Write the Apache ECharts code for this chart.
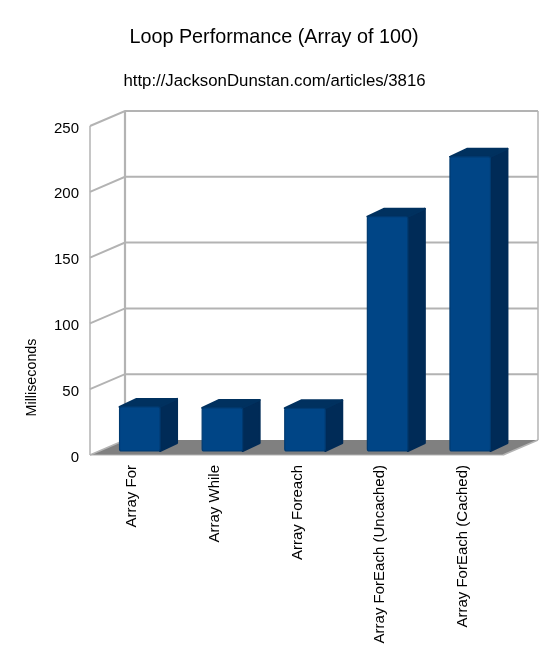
<!DOCTYPE html>
<html>
<head>
<meta charset="utf-8">
<style>html,body{margin:0;padding:0;background:#fff}#c{width:550px;height:660px}</style>
<script src="https://cdn.jsdelivr.net/npm/echarts@6/dist/echarts.min.js"></script>
</head>
<body>
<div id="c"></div>
<script>
const categories = ['Array For', 'Array While', 'Array Foreach', 'Array ForEach (Uncached)', 'Array ForEach (Cached)'];
const milliseconds = [33.5, 32.7, 32.5, 178, 223.5];
const tickValues = [0, 50, 100, 150, 200, 250];

const FONT = '"Liberation Sans", Arial, sans-serif';
const DEPTH_X = 35, DEPTH_Y = 15;     // wall depth of the pseudo-3D box
const BAR_SHIFT_X = 8.5, BAR_SHIFT_Y = 4; // bar sits mid-way into the box
const BAR_DX = 17, BAR_DY = 8;        // bar depth
const BAR_W = 40.5;
const WALL = '#b3b3b3', FLOOR = '#808080';
const FRONT = '#004586', FRONT_EDGE = '#003a70', SIDE = '#002b57', TOP = '#00315f';

function boxEdges(api) {
  const band = api.size([1, 0])[0];
  const left = api.coord([0, 0])[0] - band / 2;
  return { left, right: left + band * categories.length };
}

function renderWalls(params, api) {
  const v = api.value(0);
  const { left, right } = boxEdges(api);
  const y = api.coord([0, v])[1];
  const children = [];
  const lineStyle = (w) => ({ stroke: WALL, lineWidth: w, fill: null });
  if (v === 0) {
    children.push({ type: 'polygon', shape: { points: [[left, y], [left + DEPTH_X, y - DEPTH_Y], [right + DEPTH_X, y - DEPTH_Y], [right, y]] }, style: { fill: FLOOR } });
    const top = api.coord([0, tickValues[tickValues.length - 1]])[1];
    children.push({ type: 'line', shape: { x1: left, y1: y, x2: left, y2: top }, style: lineStyle(1.5) });
    children.push({ type: 'line', shape: { x1: left + DEPTH_X, y1: y - DEPTH_Y, x2: left + DEPTH_X, y2: top - DEPTH_Y }, style: lineStyle(2.2) });
    children.push({ type: 'line', shape: { x1: right + DEPTH_X, y1: y - DEPTH_Y, x2: right + DEPTH_X, y2: top - DEPTH_Y }, style: lineStyle(1.5) });
    children.push({ type: 'line', shape: { x1: right, y1: y, x2: right + DEPTH_X, y2: y - DEPTH_Y }, style: lineStyle(1.5) });
    children.push({ type: 'line', shape: { x1: left, y1: y, x2: right, y2: y }, style: lineStyle(1) });
    children.push({ type: 'line', shape: { x1: left, y1: y, x2: left + DEPTH_X, y2: y - DEPTH_Y }, style: lineStyle(1.5) });
  } else {
    children.push({ type: 'polyline', shape: { points: [[left, y], [left + DEPTH_X, y - DEPTH_Y], [right + DEPTH_X, y - DEPTH_Y]] }, style: lineStyle(2) });
  }
  return { type: 'group', children };
}

function renderBar(params, api) {
  const c = api.coord([api.value(0), api.value(1)]);
  const base = api.coord([api.value(0), 0]);
  const x0 = c[0] + BAR_SHIFT_X - BAR_W / 2, x1 = x0 + BAR_W;
  const yt = c[1] - BAR_SHIFT_Y, yb = base[1] - BAR_SHIFT_Y;
  const poly = (points, fill) => ({
    type: 'polygon', shape: { points },
    style: { fill, stroke: fill, lineWidth: 2, lineJoin: 'round' }
  });
  return {
    type: 'group',
    children: [
      poly([[x1, yt], [x1 + BAR_DX, yt - BAR_DY], [x1 + BAR_DX, yb - BAR_DY], [x1, yb]], SIDE),
      poly([[x0, yt], [x0 + BAR_DX, yt - BAR_DY], [x1 + BAR_DX, yt - BAR_DY], [x1, yt]], TOP),
      { type: 'rect', shape: { x: x0, y: yt, width: BAR_W, height: yb - yt, r: 2 },
        style: { fill: FRONT, stroke: FRONT_EDGE, lineWidth: 1.2 } }
    ]
  };
}

const labelToken = (padding) => ({ fontSize: 15, color: '#000', fontFamily: FONT, padding });

const chart = echarts.init(document.getElementById('c'), null, { renderer: 'canvas' });
chart.setOption({
  animation: false,
  backgroundColor: '#ffffff',
  textStyle: { fontFamily: FONT },
  title: [
    { text: 'Loop Performance (Array of 100)', left: 269, top: 23, textAlign: 'center',
      textStyle: { fontFamily: FONT, fontSize: 19.8, fontWeight: 'normal', color: '#000' } },
    { text: 'http://JacksonDunstan.com/articles/3816', left: 269.5, top: 68, textAlign: 'center',
      textStyle: { fontFamily: FONT, fontSize: 16.8, fontWeight: 'normal', color: '#000' } }
  ],
  grid: { left: 90, right: 47, top: 126, bottom: 205, containLabel: false },
  xAxis: {
    type: 'category', data: categories,
    axisLine: { show: false }, axisTick: { show: false }, splitLine: { show: false },
    axisLabel: { rotate: 90, interval: 0, margin: 10, fontSize: 15, color: '#000', fontFamily: FONT,
      formatter: '{t|{value}}', rich: { t: labelToken([2, 0, 0, 0]) } }
  },
  yAxis: {
    type: 'value', min: 0, max: 250, interval: 50,
    name: 'Milliseconds', nameLocation: 'middle', nameGap: 51, nameRotate: 90,
    nameTextStyle: { fontSize: 14.3, color: '#000', fontFamily: FONT, padding: [0, 174, 0, 0] },
    axisLine: { show: false }, axisTick: { show: false }, splitLine: { show: false },
    axisLabel: { margin: 11, fontSize: 15, color: '#000', fontFamily: FONT,
      formatter: '{t|{value}}', rich: { t: labelToken([5, 0, 0, 0]) } }
  },
  series: [
    { type: 'custom', name: 'walls', clip: false, silent: true, z: 1,
      data: tickValues.map(v => [v]), encode: { y: 0 }, renderItem: renderWalls },
    { type: 'custom', name: 'Milliseconds', clip: false, z: 2,
      data: milliseconds.map((v, i) => [i, v]), encode: { x: 0, y: 1 }, renderItem: renderBar }
  ]
});
</script>
</body>
</html>
